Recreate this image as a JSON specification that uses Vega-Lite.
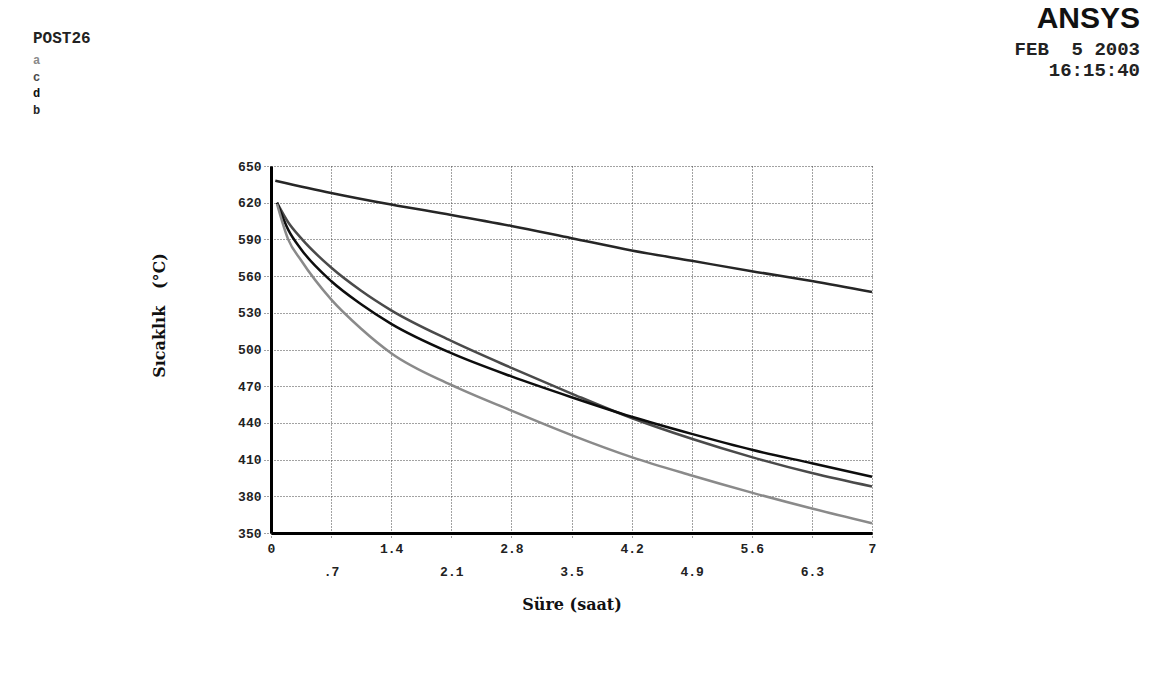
{
  "$schema": "https://vega.github.io/schema/vega-lite/v6.json",
  "width": 601,
  "height": 367,
  "autosize": {"type": "none"},
  "padding": {"left": 271, "top": 166, "right": 277, "bottom": 160},
  "background": "white",
  "title": {
    "text": "ANSYS",
    "subtitle": ["FEB\u00a0\u00a05\u00a02003", "16:15:40"],
    "anchor": "end",
    "frame": "group",
    "dx": 268,
    "offset": -50,
    "font": "Liberation Sans",
    "fontSize": 30,
    "fontWeight": "bold",
    "color": "#111",
    "subtitleFont": "Liberation Mono",
    "subtitleFontSize": 19,
    "subtitleFontWeight": "bold",
    "subtitleColor": "#222",
    "subtitlePadding": 6,
    "subtitleLineHeight": 21
  },
  "config": {
    "view": {"stroke": null},
    "axis": {
      "grid": true,
      "gridColor": "#444",
      "gridDash": [1, 2],
      "gridWidth": 1,
      "gridOpacity": 1,
      "domainColor": "#000",
      "domainWidth": 3,
      "tickColor": "#444",
      "tickDash": [1, 2],
      "labelFont": "Liberation Mono",
      "labelFontWeight": "bold",
      "labelFontSize": 13,
      "labelColor": "#222",
      "titleFont": "DejaVu Serif",
      "titleFontWeight": "bold",
      "titleFontSize": 16,
      "titleColor": "#111"
    }
  },
  "data": {
    "values": [
      {"s": "b", "t": 0.05, "v": 638},
      {"s": "b", "t": 0.7, "v": 628},
      {"s": "b", "t": 1.4, "v": 618.5},
      {"s": "b", "t": 2.1, "v": 610},
      {"s": "b", "t": 2.8, "v": 601},
      {"s": "b", "t": 3.5, "v": 591},
      {"s": "b", "t": 4.2, "v": 581},
      {"s": "b", "t": 4.9, "v": 572.5},
      {"s": "b", "t": 5.6, "v": 564},
      {"s": "b", "t": 6.3, "v": 556},
      {"s": "b", "t": 7, "v": 547},

      {"s": "c", "t": 0.07, "v": 620},
      {"s": "c", "t": 0.2, "v": 604},
      {"s": "c", "t": 0.35, "v": 591},
      {"s": "c", "t": 0.7, "v": 567},
      {"s": "c", "t": 1.05, "v": 548},
      {"s": "c", "t": 1.4, "v": 532},
      {"s": "c", "t": 2.1, "v": 507},
      {"s": "c", "t": 2.8, "v": 485},
      {"s": "c", "t": 3.5, "v": 464},
      {"s": "c", "t": 4.2, "v": 444},
      {"s": "c", "t": 4.9, "v": 427},
      {"s": "c", "t": 5.6, "v": 412},
      {"s": "c", "t": 6.3, "v": 399},
      {"s": "c", "t": 7, "v": 388},

      {"s": "d", "t": 0.07, "v": 620},
      {"s": "d", "t": 0.2, "v": 598},
      {"s": "d", "t": 0.35, "v": 582},
      {"s": "d", "t": 0.7, "v": 556},
      {"s": "d", "t": 1.05, "v": 537},
      {"s": "d", "t": 1.4, "v": 521},
      {"s": "d", "t": 2.1, "v": 497},
      {"s": "d", "t": 2.8, "v": 478},
      {"s": "d", "t": 3.5, "v": 461},
      {"s": "d", "t": 4.2, "v": 445},
      {"s": "d", "t": 4.9, "v": 431},
      {"s": "d", "t": 5.6, "v": 418},
      {"s": "d", "t": 6.3, "v": 407},
      {"s": "d", "t": 7, "v": 396},

      {"s": "a", "t": 0.07, "v": 619},
      {"s": "a", "t": 0.2, "v": 590},
      {"s": "a", "t": 0.35, "v": 573},
      {"s": "a", "t": 0.7, "v": 541},
      {"s": "a", "t": 1.05, "v": 517},
      {"s": "a", "t": 1.4, "v": 497},
      {"s": "a", "t": 2.1, "v": 471},
      {"s": "a", "t": 2.8, "v": 450},
      {"s": "a", "t": 3.5, "v": 430},
      {"s": "a", "t": 4.2, "v": 412},
      {"s": "a", "t": 4.9, "v": 397},
      {"s": "a", "t": 5.6, "v": 383},
      {"s": "a", "t": 6.3, "v": 370},
      {"s": "a", "t": 7, "v": 358}
    ]
  },
  "mark": {"type": "line", "interpolate": "monotone", "strokeWidth": 2.5},
  "encoding": {
    "x": {
      "field": "t",
      "type": "quantitative",
      "scale": {"domain": [0, 7], "nice": false, "zero": false},
      "axis": {
        "title": "Süre (saat)",
        "values": [0, 0.7, 1.4, 2.1, 2.8, 3.5, 4.2, 4.9, 5.6, 6.3, 7],
        "labelExpr": "datum.value == 0 ? '0' : (datum.value < 1 ? '.7' : format(datum.value, '.1~f'))",
        "labelPadding": {"condition": {"test": "round(datum.value * 10) % 14 == 7", "value": 27}, "value": 4},
        "labelFlush": false,
        "labelOverlap": false,
        "tickSize": 5,
        "titlePadding": 18
      }
    },
    "y": {
      "field": "v",
      "type": "quantitative",
      "scale": {"domain": [350, 650], "nice": false, "zero": false},
      "axis": {
        "title": "Sıcaklık\u00a0\u00a0\u00a0(°C)",
        "values": [350, 380, 410, 440, 470, 500, 530, 560, 590, 620, 650],
        "tickSize": 8,
        "labelPadding": 2,
        "labelOverlap": false,
        "labelFlush": false,
        "titlePadding": 70,
        "titleY": 149
      }
    },
    "color": {
      "field": "s",
      "type": "nominal",
      "scale": {"domain": ["a", "c", "d", "b"], "range": ["#8a8a8a", "#4a4a4a", "#0d0d0d", "#262626"]},
      "legend": {
        "title": "POST26",
        "orient": "none",
        "legendX": -238,
        "legendY": -136,
        "titleFont": "Liberation Mono",
        "titleFontSize": 16,
        "titleFontWeight": "bold",
        "titleColor": "#222",
        "titlePadding": 8,
        "labelFont": "Liberation Mono",
        "labelFontSize": 12,
        "labelFontWeight": "bold",
        "symbolType": "circle",
        "symbolSize": 0,
        "symbolOpacity": 0,
        "symbolStrokeWidth": 0,
        "labelOffset": -12,
        "rowPadding": 4.5,
        "encode": {
          "labels": {
            "update": {"fill": {"scale": "color", "field": "value"}}
          }
        }
      }
    }
  }
}
